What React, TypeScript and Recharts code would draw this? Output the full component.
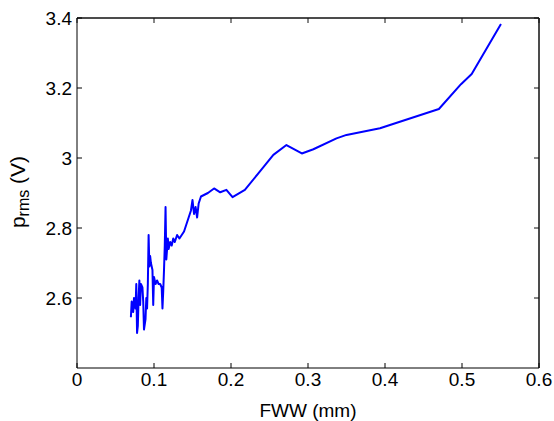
import React from 'react';
import { LineChart, Line, XAxis, YAxis, ReferenceLine } from 'recharts';

// FWW (mm) vs p_rms (V)
const fwwMm = [
  0.070, 0.071, 0.073, 0.074, 0.076, 0.077, 0.078, 0.079, 0.080, 0.081,
  0.082, 0.083, 0.085, 0.086, 0.087, 0.089, 0.090, 0.091, 0.092, 0.093,
  0.094, 0.095, 0.096, 0.098, 0.099, 0.100, 0.102, 0.104, 0.106, 0.108,
  0.110, 0.111, 0.112, 0.113, 0.114, 0.115, 0.116, 0.118, 0.119, 0.121,
  0.123, 0.125, 0.127, 0.130, 0.133, 0.136, 0.139, 0.142, 0.145, 0.148,
  0.150, 0.152, 0.154, 0.156, 0.158, 0.161, 0.170, 0.178, 0.186, 0.194,
  0.202, 0.218, 0.2355, 0.255, 0.272, 0.292, 0.307, 0.337, 0.350, 0.3935,
  0.470, 0.4987, 0.5126, 0.5506,
];
const prmsV = [
  2.545, 2.59, 2.56, 2.60, 2.57, 2.64, 2.50, 2.52, 2.60, 2.65,
  2.58, 2.64, 2.63, 2.59, 2.51, 2.54, 2.60, 2.57, 2.64, 2.78,
  2.69, 2.72, 2.70, 2.68, 2.58, 2.66, 2.64, 2.65, 2.64, 2.64,
  2.63, 2.57, 2.62, 2.68, 2.75, 2.86, 2.71, 2.77, 2.74, 2.76,
  2.75, 2.77, 2.76, 2.78, 2.77, 2.78, 2.79, 2.81, 2.83, 2.85,
  2.88, 2.84, 2.86, 2.83, 2.87, 2.89, 2.90, 2.913, 2.902, 2.909,
  2.888, 2.909, 2.956, 3.009, 3.037, 3.013, 3.025, 3.056, 3.066, 3.085,
  3.14, 3.211, 3.24, 3.383,
];

const xTicks = [0, 0.1, 0.2, 0.3, 0.4, 0.5, 0.6];
const yTicks = [2.6, 2.8, 3, 3.2, 3.4];
const xDomain = [0, 0.6];
const yDomain = [2.4, 3.4];

const FONT = '"Liberation Sans", Arial, Helvetica, sans-serif';

const W = 554;
const H = 421;
const LEFT = 77;
const RIGHT = 539;
const TOP = 18;
const BOTTOM = 368;

const data = fwwMm.map((x, i) => ({ fww: x, prms: prmsV[i] }));

const tickStyle = { fill: '#000', fontSize: 19, fontFamily: FONT };

const XLabel = (props: any) => {
  const vb = props.viewBox;
  return (
    <text x={vb.x + vb.width / 2} y={417} textAnchor="middle" fontSize={19} fontFamily={FONT} fill="#000">
      FWW (mm)
    </text>
  );
};

const YLabel = () => {
  const cx = 25;
  const cy = 192;
  return (
    <text x={cx} y={cy} transform={`rotate(-90, ${cx}, ${cy})`} textAnchor="middle" fontSize={21} fontFamily={FONT} fill="#000">
      p
      <tspan fontSize={16} dy={4}>rms</tspan>
      <tspan dy={-4}> (V)</tspan>
    </text>
  );
};

export default function App() {
  return (
    <div style={{ position: 'absolute', left: 0, top: 0, width: W, height: H, background: '#fff' }}>
      <LineChart width={W} height={H} data={data} margin={{ top: TOP - 1, right: W - RIGHT - 1, left: 0, bottom: 0 }}>
        <XAxis
          dataKey="fww"
          type="number"
          domain={xDomain}
          ticks={xTicks}
          interval={0}
          height={H - BOTTOM}
          stroke="#000"
          tickSize={-5}
          tickMargin={10}
          tick={tickStyle}
          label={<XLabel />}
        />
        <XAxis
          xAxisId="top"
          orientation="top"
          dataKey="fww"
          type="number"
          domain={xDomain}
          ticks={xTicks}
          interval={0}
          height={1}
          stroke="#111"
          tickSize={-5}
          tickFormatter={() => ''}
        />
        <YAxis
          type="number"
          domain={yDomain}
          ticks={yTicks}
          interval={0}
          width={LEFT}
          stroke="#000"
          tickSize={-5}
          tickMargin={10}
          tick={tickStyle}
          label={<YLabel />}
        />
        <YAxis
          yAxisId="right"
          orientation="right"
          type="number"
          domain={yDomain}
          ticks={yTicks}
          interval={0}
          width={1}
          stroke="#111"
          tickSize={-5}
          tickFormatter={() => ''}
        />
        <ReferenceLine y={yDomain[1]} stroke="#111" strokeWidth={1} ifOverflow="extendDomain" />
        <ReferenceLine x={xDomain[1]} stroke="#111" strokeWidth={1} ifOverflow="extendDomain" />
        <Line
          type="linear"
          dataKey="prms"
          stroke="#0000ff"
          strokeWidth={2}
          strokeLinejoin="round"
          dot={false}
          activeDot={false}
          isAnimationActive={false}
        />
        <Line
          xAxisId="top"
          yAxisId="right"
          type="linear"
          dataKey="prms"
          stroke="none"
          dot={false}
          activeDot={false}
          isAnimationActive={false}
        />
      </LineChart>
    </div>
  );
}
